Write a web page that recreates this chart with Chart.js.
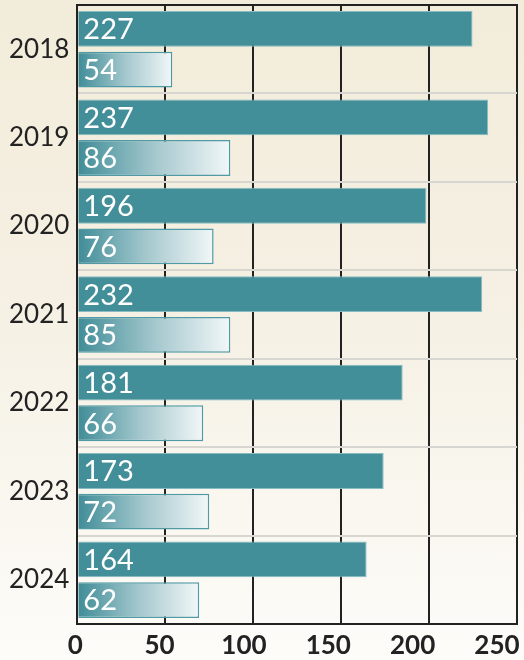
<!DOCTYPE html>
<html>
<head>
<meta charset="utf-8">
<script src="https://cdn.jsdelivr.net/npm/chart.js@4.4.1/dist/chart.umd.min.js"></script>
<style>
    html, body { margin: 0; padding: 0; }
    body { width: 524px; height: 660px; background: linear-gradient(to bottom, #f2ecda 0%, #f5f0e3 45%, #fdfcf9 100%); }
    #wrap { position: relative; width: 524px; height: 660px; }
</style>
</head>
<body>
<div id="wrap"><canvas id="chart"></canvas></div>
<script>
    // chart data
    var years = ['2018', '2019', '2020', '2021', '2022', '2023', '2024'];
    // bar lengths as drawn in the picture
    var seriesA = [224.7, 233.6, 198.5, 230.2, 185, 174.2, 164.5];
    var seriesB = [54, 87, 77.5, 87, 71.6, 75, 69.3];
    // numbers printed on the bars
    var labelsA = ['227', '237', '196', '232', '181', '173', '164'];
    var labelsB = ['54', '86', '76', '85', '66', '72', '62'];
    var xTicks = [0, 50, 100, 150, 200, 250];

    var teal = '#428e99';

    // gradient for the light bars, one per bar from base to end
    function fadeFill(ctx) {
        var chart = ctx.chart;
        var x = chart.scales && chart.scales.x;
        if (!chart.chartArea || !x || ctx.raw === undefined) return teal;
        var x0 = x.getPixelForValue(0);
        var x1 = x.getPixelForValue(ctx.raw);
        var g = chart.ctx.createLinearGradient(x0, 0, x1, 0);
        g.addColorStop(0, '#3f8c97');
        g.addColorStop(0.5, '#a3c7cd');
        g.addColorStop(1, '#f2f7f8');
        return g;
    }

    function noPad(axis) {
        axis.paddingTop = 0;
        axis.paddingBottom = 0;
        axis.paddingLeft = 0;
        axis.paddingRight = 0;
    }

    var valueLabels = {
        id: 'valueLabels',
        afterDatasetsDraw: function(chart) {
            var c = chart.ctx;
            var area = chart.chartArea;
            var texts = [labelsA, labelsB];
            c.save();
            // top frame line
            c.strokeStyle = '#222222';
            c.lineWidth = 2;
            c.beginPath();
            c.moveTo(area.left - 1, area.top);
            c.lineTo(area.right + 1, area.top);
            c.stroke();

            c.fillStyle = '#ffffff';
            c.font = '29px Lato';
            c.textBaseline = 'middle';
            c.textAlign = 'left';
            chart.data.datasets.forEach(function(ds, i) {
                var meta = chart.getDatasetMeta(i);
                meta.data.forEach(function(bar, j) {
                    c.fillText(texts[i][j], bar.base + 5, bar.y + 1);
                });
            });
            c.restore();
        }
    };

    var ctx = document.getElementById('chart').getContext('2d');
    var myChart = new Chart(ctx, {
        type: 'bar',
        data: {
            labels: years,
            datasets: [{
                label: 'A',
                data: seriesA,
                backgroundColor: teal,
                borderColor: '#86bcc2',
                borderWidth: 1,
                categoryPercentage: 0.92,
                barPercentage: 0.88
            }, {
                label: 'B',
                data: seriesB,
                backgroundColor: fadeFill,
                borderColor: '#4f9aa4',
                borderWidth: 1.5,
                categoryPercentage: 0.92,
                barPercentage: 0.88
            }]
        },
        options: {
            indexAxis: 'y',
            responsive: true,
            maintainAspectRatio: false,
            animation: false,
            layout: { padding: { top: 5, right: 7, bottom: 0, left: 1 } },
            plugins: {
                legend: { display: false },
                tooltip: { enabled: false }
            },
            scales: {
                x: {
                    min: 0,
                    max: 250,
                    afterBuildTicks: function(axis) {
                        axis.ticks = xTicks.map(function(v) { return { value: v }; });
                    },
                    afterFit: function(axis) {
                        noPad(axis);
                        axis.height = 0;
                    },
                    grid: { color: '#222222', lineWidth: 2, drawTicks: false },
                    border: { color: '#222222', width: 2 },
                    ticks: { display: false, padding: 0 }
                },
                // tick labels sit on a slightly narrower scale than the grid
                xLab: {
                    type: 'linear',
                    position: 'bottom',
                    axis: 'x',
                    min: 1.2,
                    max: 261.9,
                    afterBuildTicks: function(axis) {
                        axis.ticks = xTicks.map(function(v) { return { value: v }; });
                    },
                    afterFit: function(axis) {
                        noPad(axis);
                        axis.height = 36;
                    },
                    grid: { display: false, drawTicks: false },
                    border: { display: false },
                    ticks: {
                        color: '#222222',
                        padding: 8,
                        font: { family: 'Lato', size: 26, weight: 'bold', lineHeight: 1.08 }
                    }
                },
                y: {
                    afterFit: noPad,
                    grid: {
                        offset: true,
                        drawTicks: false,
                        lineWidth: 2,
                        color: '#d8d6d0'
                    },
                    border: { color: '#222222', width: 2 },
                    ticks: {
                        color: '#222222',
                        padding: 8,
                        font: { family: 'Lato', size: 26 }
                    }
                }
            }
        },
        plugins: [valueLabels]
    });
</script>
</body>
</html>
